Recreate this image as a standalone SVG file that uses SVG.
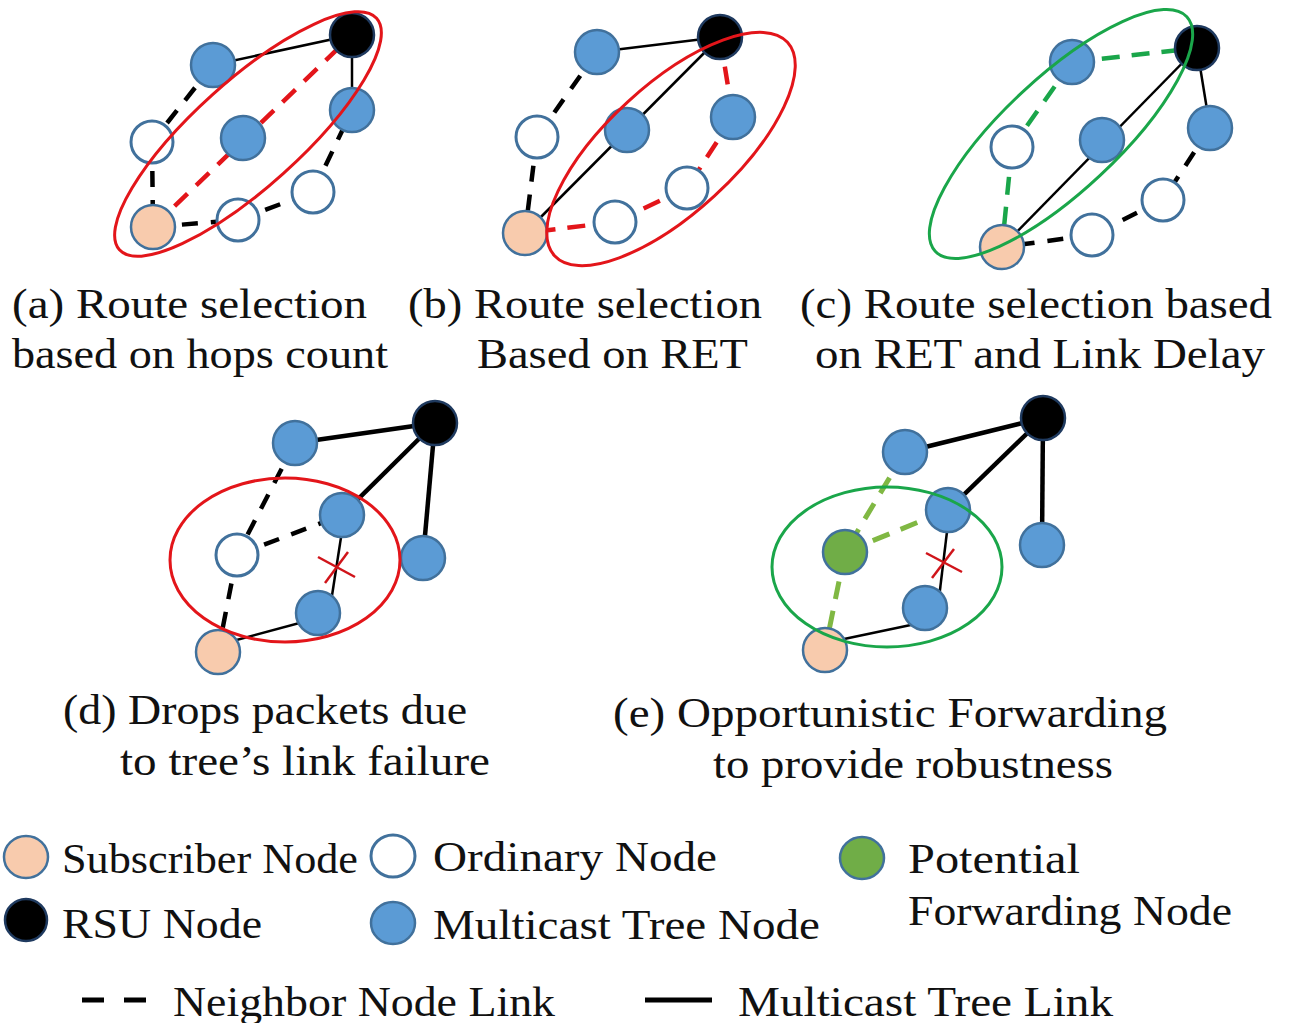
<svg xmlns="http://www.w3.org/2000/svg" width="1290" height="1023" viewBox="0 0 1290 1023">
<style>
.bg{fill:#ffffff}
.n{stroke:#41719c;stroke-width:2.5}
.blue{fill:#5b9bd5}
.sub{fill:#f8cbad}
.ord{fill:#ffffff;stroke-width:3}
.grn{fill:#70ad47}
.rsu{fill:#000000;stroke:#1f3a5f;stroke-width:2.5}
.tree{stroke:#000;stroke-width:2.5;fill:none}
.treeT{stroke:#000;stroke-width:4.5;fill:none}
.nb{stroke:#000;stroke-width:4.5;stroke-dasharray:16 13;fill:none}
.rd{stroke:#e3151a;stroke-width:4.5;stroke-dasharray:18 12;fill:none}
.gd{stroke:#1aa64a;stroke-width:4.5;stroke-dasharray:18 12;fill:none}
.lg{stroke:#80b843;stroke-width:5;stroke-dasharray:18 12;fill:none}
.eR{stroke:#e3151a;stroke-width:3;fill:none}
.eG{stroke:#1aa64a;stroke-width:3;fill:none}
.x{stroke:#d0141a;stroke-width:2.5;fill:none}
text{font-family:"Liberation Serif","DejaVu Serif",serif;fill:#111}
.cap{font-size:42px}
.leg{font-size:43px}
</style>
<rect class="bg" width="1290" height="1023"/>

<g id="connectors">
  <!-- panel a -->
  <line class="tree" x1="213" y1="65" x2="352" y2="35"/>
  <line class="tree" x1="352" y1="35" x2="352" y2="110"/>
  <line class="nb" x1="213" y1="65" x2="152" y2="142"/>
  <line class="nb" x1="152" y1="142" x2="153" y2="227"/>
  <line class="nb" x1="153" y1="227" x2="238" y2="220"/>
  <line class="nb" x1="238" y1="220" x2="313" y2="192"/>
  <line class="nb" x1="313" y1="192" x2="352" y2="110"/>
  <line class="rd" x1="153" y1="227" x2="352" y2="35"/>
  <!-- panel b -->
  <line class="tree" x1="597" y1="52" x2="720" y2="37"/>
  <line class="tree" x1="720" y1="37" x2="525" y2="233"/>
  <line class="nb" x1="597" y1="52" x2="537" y2="137"/>
  <line class="nb" x1="537" y1="137" x2="525" y2="233"/>
  <line class="rd" x1="720" y1="37" x2="733" y2="117"/>
  <line class="rd" x1="733" y1="117" x2="687" y2="188"/>
  <line class="rd" x1="687" y1="188" x2="615" y2="222"/>
  <line class="rd" x1="615" y1="222" x2="525" y2="233"/>
  <!-- panel c -->
  <line class="gd" x1="1072" y1="62" x2="1197" y2="48"/>
  <line class="gd" x1="1072" y1="62" x2="1012" y2="147"/>
  <line class="gd" x1="1012" y1="147" x2="1002" y2="247"/>
  <line class="tree" x1="1197" y1="48" x2="1002" y2="247"/>
  <line class="tree" x1="1197" y1="48" x2="1210" y2="128"/>
  <line class="nb" x1="1210" y1="128" x2="1163" y2="200"/>
  <line class="nb" x1="1163" y1="200" x2="1092" y2="235"/>
  <line class="nb" x1="1092" y1="235" x2="1002" y2="247"/>
  <!-- panel d -->
  <line class="treeT" x1="295" y1="443" x2="435" y2="423"/>
  <line class="treeT" x1="435" y1="423" x2="342" y2="515"/>
  <line class="treeT" x1="435" y1="423" x2="423" y2="558"/>
  <line class="nb" x1="295" y1="443" x2="237" y2="555"/>
  <line class="nb" x1="237" y1="555" x2="342" y2="515"/>
  <line class="nb" x1="237" y1="555" x2="218" y2="652"/>
  <line class="tree" x1="344" y1="518" x2="331" y2="602"/>
  <line class="tree" x1="318" y1="618" x2="218" y2="645"/>
  <!-- panel e -->
  <line class="treeT" x1="905" y1="452" x2="1043" y2="418"/>
  <line class="treeT" x1="1043" y1="418" x2="948" y2="510"/>
  <line class="treeT" x1="1043" y1="418" x2="1042" y2="545"/>
  <line class="lg" x1="905" y1="452" x2="845" y2="552"/>
  <line class="lg" x1="845" y1="552" x2="948" y2="510"/>
  <line class="lg" x1="845" y1="552" x2="825" y2="650"/>
  <line class="tree" x1="949" y1="515" x2="939" y2="598"/>
  <line class="tree" x1="925" y1="622" x2="825" y2="643"/>
</g>

<g id="panel-a">
  <circle class="n blue" cx="213" cy="65" r="22"/>
  <circle class="rsu" cx="352" cy="35" r="22"/>
  <circle class="n blue" cx="352" cy="110" r="22"/>
  <circle class="n blue" cx="243" cy="138" r="22"/>
  <circle class="n ord" cx="152" cy="142" r="21"/>
  <circle class="n sub" cx="153" cy="227" r="22"/>
  <circle class="n ord" cx="238" cy="220" r="21"/>
  <circle class="n ord" cx="313" cy="192" r="21"/>
  <ellipse class="eR" cx="248" cy="134" rx="173" ry="53" transform="rotate(-42 248 134)"/>
  <text class="cap" x="12" y="318" textLength="355" lengthAdjust="spacingAndGlyphs">(a) Route selection</text>
  <text class="cap" x="12" y="368" textLength="376" lengthAdjust="spacingAndGlyphs">based on hops count</text>
</g>

<g id="panel-b">
  <circle class="n blue" cx="597" cy="52" r="22"/>
  <circle class="rsu" cx="720" cy="37" r="22"/>
  <circle class="n ord" cx="537" cy="137" r="21"/>
  <circle class="n blue" cx="627" cy="130" r="22"/>
  <circle class="n blue" cx="733" cy="117" r="22"/>
  <circle class="n ord" cx="687" cy="188" r="21"/>
  <circle class="n ord" cx="615" cy="222" r="21"/>
  <circle class="n sub" cx="525" cy="233" r="22"/>
  <ellipse class="eR" cx="671" cy="149" rx="158" ry="64" transform="rotate(-42.5 671 149)"/>
  <text class="cap" x="408" y="318" textLength="354" lengthAdjust="spacingAndGlyphs">(b) Route selection</text>
  <text class="cap" x="477" y="368" textLength="271" lengthAdjust="spacingAndGlyphs">Based on RET</text>
</g>

<g id="panel-c">
  <circle class="n blue" cx="1072" cy="62" r="22"/>
  <circle class="rsu" cx="1197" cy="48" r="22"/>
  <circle class="n ord" cx="1012" cy="147" r="21"/>
  <circle class="n blue" cx="1102" cy="140" r="22"/>
  <circle class="n blue" cx="1210" cy="128" r="22"/>
  <circle class="n ord" cx="1163" cy="200" r="21"/>
  <circle class="n ord" cx="1092" cy="235" r="21"/>
  <circle class="n sub" cx="1002" cy="247" r="22"/>
  <ellipse class="eG" cx="1061" cy="134" rx="172" ry="57" transform="rotate(-43 1061 134)"/>
  <text class="cap" x="800" y="318" textLength="472" lengthAdjust="spacingAndGlyphs">(c) Route selection based</text>
  <text class="cap" x="815" y="368" textLength="450" lengthAdjust="spacingAndGlyphs">on RET and Link Delay</text>
</g>

<g id="panel-d">
  <circle class="n blue" cx="295" cy="443" r="22"/>
  <circle class="rsu" cx="435" cy="423" r="22"/>
  <circle class="n blue" cx="342" cy="515" r="22"/>
  <circle class="n blue" cx="423" cy="558" r="22"/>
  <circle class="n ord" cx="237" cy="555" r="21"/>
  <circle class="n blue" cx="318" cy="613" r="22"/>
  <circle class="n sub" cx="218" cy="652" r="22"/>
  <line class="x" x1="318" y1="557" x2="355" y2="577"/>
  <line class="x" x1="325" y1="583" x2="348" y2="552"/>
  <ellipse class="eR" cx="285" cy="560" rx="115" ry="82"/>
  <text class="cap" x="63" y="724" textLength="404" lengthAdjust="spacingAndGlyphs">(d) Drops packets due</text>
  <text class="cap" x="120" y="775" textLength="370" lengthAdjust="spacingAndGlyphs">to tree’s link failure</text>
</g>

<g id="panel-e">
  <circle class="n blue" cx="905" cy="452" r="22"/>
  <circle class="rsu" cx="1043" cy="418" r="22"/>
  <circle class="n blue" cx="948" cy="510" r="22"/>
  <circle class="n blue" cx="1042" cy="545" r="22"/>
  <circle class="n grn" cx="845" cy="552" r="22"/>
  <circle class="n blue" cx="925" cy="608" r="22"/>
  <circle class="n sub" cx="825" cy="650" r="22"/>
  <line class="x" x1="926" y1="553" x2="962" y2="572"/>
  <line class="x" x1="932" y1="578" x2="954" y2="549"/>
  <ellipse class="eG" cx="887" cy="567" rx="115" ry="80"/>
  <text class="cap" x="613" y="727" textLength="554" lengthAdjust="spacingAndGlyphs">(e) Opportunistic Forwarding</text>
  <text class="cap" x="713" y="778" textLength="400" lengthAdjust="spacingAndGlyphs">to provide robustness</text>
</g>

<g id="legend">
  <ellipse class="n sub" cx="26" cy="857" rx="22" ry="21"/>
  <text class="leg" x="62" y="873" textLength="296" lengthAdjust="spacingAndGlyphs">Subscriber Node</text>
  <ellipse class="n ord" cx="393" cy="856" rx="22" ry="21"/>
  <text class="leg" x="433" y="871" textLength="284" lengthAdjust="spacingAndGlyphs">Ordinary Node</text>
  <ellipse class="n grn" cx="862" cy="858" rx="22" ry="21"/>
  <text class="leg" x="908" y="873" textLength="172" lengthAdjust="spacingAndGlyphs">Potential</text>
  <text class="leg" x="908" y="925" textLength="324" lengthAdjust="spacingAndGlyphs">Forwarding Node</text>
  <ellipse class="rsu" cx="26" cy="920" rx="21" ry="21"/>
  <text class="leg" x="62" y="938" textLength="200" lengthAdjust="spacingAndGlyphs">RSU Node</text>
  <ellipse class="n blue" cx="393" cy="923" rx="22" ry="21"/>
  <text class="leg" x="433" y="939" textLength="387" lengthAdjust="spacingAndGlyphs">Multicast Tree Node</text>
  <line x1="82" y1="1000" x2="146" y2="1000" stroke="#000" stroke-width="5" stroke-dasharray="22 20"/>
  <text class="leg" x="173" y="1016" textLength="382" lengthAdjust="spacingAndGlyphs">Neighbor Node Link</text>
  <line x1="645" y1="1000" x2="712" y2="1000" stroke="#000" stroke-width="5"/>
  <text class="leg" x="738" y="1016" textLength="375" lengthAdjust="spacingAndGlyphs">Multicast Tree Link</text>
</g>
</svg>
